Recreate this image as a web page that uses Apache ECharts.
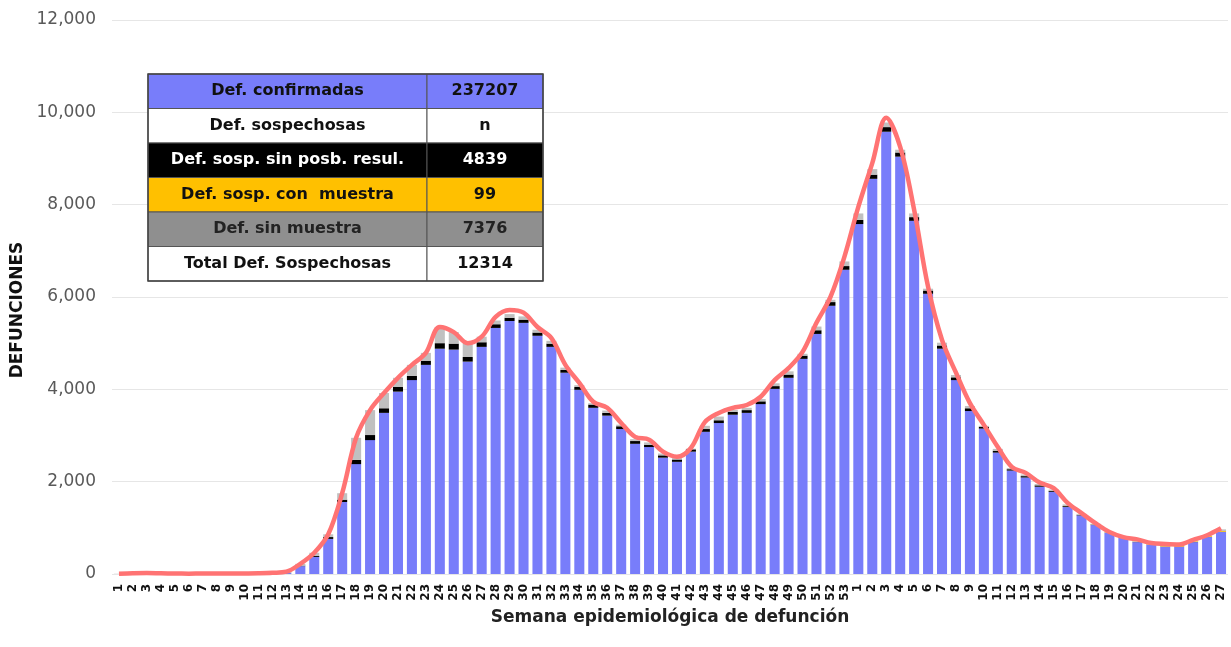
<!DOCTYPE html>
<html><head><meta charset="utf-8">
<script src="https://cdn.jsdelivr.net/npm/echarts@6/dist/echarts.min.js"></script>
<style>html,body{margin:0;padding:0;background:#fff}#c{width:1231px;height:647px}</style>
</head><body><div id="c"></div>
<script>
const weeks = ['1','2','3','4','5','6','7','8','9','10','11','12','13','14','15','16','17','18','19','20','21','22','23','24','25','26','27','28','29','30','31','32','33','34','35','36','37','38','39','40','41','42','43','44','45','46','47','48','49','50','51','52','53',
 '1','2','3','4','5','6','7','8','9','10','11','12','13','14','15','16','17','18','19','20','21','22','23','24','25','26','27'];

const confirmadas = [0,0,0,0,0,0,0,0,0,0,0,0,20,170,370,760,1560,2380,2900,3490,3950,4200,4530,4880,4860,4600,4920,5330,5480,5440,5160,4920,4360,3990,3600,3430,3140,2820,2750,2520,2430,2650,3080,3270,3450,3490,3680,4010,4250,4660,5200,5810,6590,
 7580,8560,9580,9040,7650,6070,4880,4200,3530,3150,2630,2240,2090,1890,1780,1450,1270,1060,890,780,690,630,590,590,690,800,910];
const sinPosibResul = [0,0,0,0,0,0,0,0,0,0,0,0,5,10,20,40,50,90,110,100,100,90,90,120,130,100,100,80,70,70,70,70,60,60,70,60,60,60,50,50,50,50,60,60,60,60,60,60,70,70,80,80,80,
 90,90,100,90,80,70,70,60,60,40,40,30,30,30,20,20,10,10,5,5,5,5,5,5,5,5,5];
const conMuestra = [0,0,0,0,0,0,0,0,0,0,0,0,0,0,0,0,0,0,0,0,0,0,0,0,0,0,0,0,0,0,0,0,0,0,0,0,0,0,0,0,0,0,0,0,0,0,0,0,0,0,0,0,0,
 0,0,0,0,0,0,0,0,0,0,0,0,0,0,0,2,2,3,4,5,6,8,10,12,14,16,17];
const sinMuestra = [5,15,20,15,10,8,10,10,10,12,15,25,25,40,70,60,140,480,540,330,200,240,170,350,250,300,120,80,80,70,60,60,50,40,30,50,35,40,50,40,30,15,70,80,45,50,50,60,70,40,80,50,100,
 140,120,100,60,80,40,60,50,50,20,40,25,35,30,30,35,20,15,8,8,25,18,25,20,20,18,35];
const totalDef = [5,15,20,15,10,8,10,10,10,12,15,25,50,220,460,860,1750,2950,3550,3920,4250,4530,4790,5350,5240,5000,5140,5570,5720,5660,5350,5110,4530,4140,3730,3600,3270,2970,2910,2650,2540,2730,3290,3490,3600,3660,3840,4200,4460,4810,5440,6000,6870,
 7950,8900,9880,9250,7890,6220,5070,4360,3700,3230,2750,2320,2190,1980,1860,1540,1320,1100,910,800,750,670,650,640,740,840,990];

const tableLabels = ['Def. confirmadas','Def. sospechosas','Def. sosp. sin posb. resul.','Def. sosp. con  muestra','Def. sin muestra','Total Def. Sospechosas'];
const tableValues = ['237207','n','4839','99','7376','12314'];

const FONT = 'DejaVu Sans';
const rowFill = ['#787dfa','#ffffff','#000000','#ffc000','#8f8f8f','#ffffff'];
const rowText = ['#111','#111','#fff','#111','#222','#111'];

const tX = 148, tY = 74, c1 = 279, c2 = 116, rh = 34.5;
const graphics = [];
tableLabels.forEach((lab, i) => {
  const y = tY + i * rh;
  graphics.push({type:'rect', shape:{x:tX, y:y, width:c1, height:rh}, style:{fill:rowFill[i], stroke:'#555', lineWidth:1}, z:100});
  graphics.push({type:'rect', shape:{x:tX + c1, y:y, width:c2, height:rh}, style:{fill:rowFill[i], stroke:'#555', lineWidth:1}, z:100});
  graphics.push({type:'text', x:tX + c1/2, y:y + rh/2, style:{text:lab, fill:rowText[i], font:'bold 16px ' + FONT, textAlign:'center', textVerticalAlign:'middle'}, z:101});
  graphics.push({type:'text', x:tX + c1 + c2/2, y:y + rh/2, style:{text:tableValues[i], fill:rowText[i], font:'bold 16px ' + FONT, textAlign:'center', textVerticalAlign:'middle'}, z:101});
});
graphics.push({type:'rect', shape:{x:tX, y:tY, width:c1+c2, height:rh*6}, style:{fill:'none', stroke:'#444', lineWidth:1.5}, z:102});

const chart = echarts.init(document.getElementById('c'));
chart.setOption({
  animation:false,
  textStyle:{fontFamily:FONT},
  grid:{left:112, right:3, top:20, bottom:73},
  xAxis:{
    type:'category', data:weeks,
    axisLine:{show:false}, axisTick:{show:false},
    axisLabel:{interval:0, rotate:90, fontSize:12, fontWeight:'bold', color:'#111', margin:10, fontFamily:FONT},
    name:'Semana epidemiológica de defunción', nameLocation:'middle', nameGap:25,
    nameTextStyle:{fontSize:17, fontWeight:'bold', color:'#222', fontFamily:FONT}
  },
  yAxis:{
    type:'value', min:0, max:12000, interval:2000,
    axisLine:{show:false}, axisTick:{show:false},
    splitLine:{lineStyle:{color:'#e6e6e6', width:1}},
    axisLabel:{fontSize:17, color:'#595959', margin:16, fontFamily:FONT,
      formatter:v => v.toLocaleString('en-US')},
    name:'DEFUNCIONES', nameLocation:'middle', nameGap:84, nameRotate:90,
    nameTextStyle:{fontSize:17, fontWeight:'bold', color:'#111', fontFamily:FONT, padding:[0,0,0,-26]}
  },
  series:[
    {name:'Def. confirmadas', type:'bar', stack:'d', data:confirmadas, itemStyle:{color:'#787dfa'}, barCategoryGap:'28%'},
    {name:'Def. sosp. sin posb. resul.', type:'bar', stack:'d', data:sinPosibResul, itemStyle:{color:'#000000'}},
    {name:'Def. sosp. con muestra', type:'bar', stack:'d', data:conMuestra, itemStyle:{color:'#ffc000'}},
    {name:'Def. sin muestra', type:'bar', stack:'d', data:sinMuestra, itemStyle:{color:'#c0c0c0'}},
    {name:'Total', type:'line', data:totalDef, smooth:0.35, symbol:'none', z:10,
      lineStyle:{color:'#ff7373', width:4.5}}
  ],
  graphic:graphics
});
</script></body></html>
